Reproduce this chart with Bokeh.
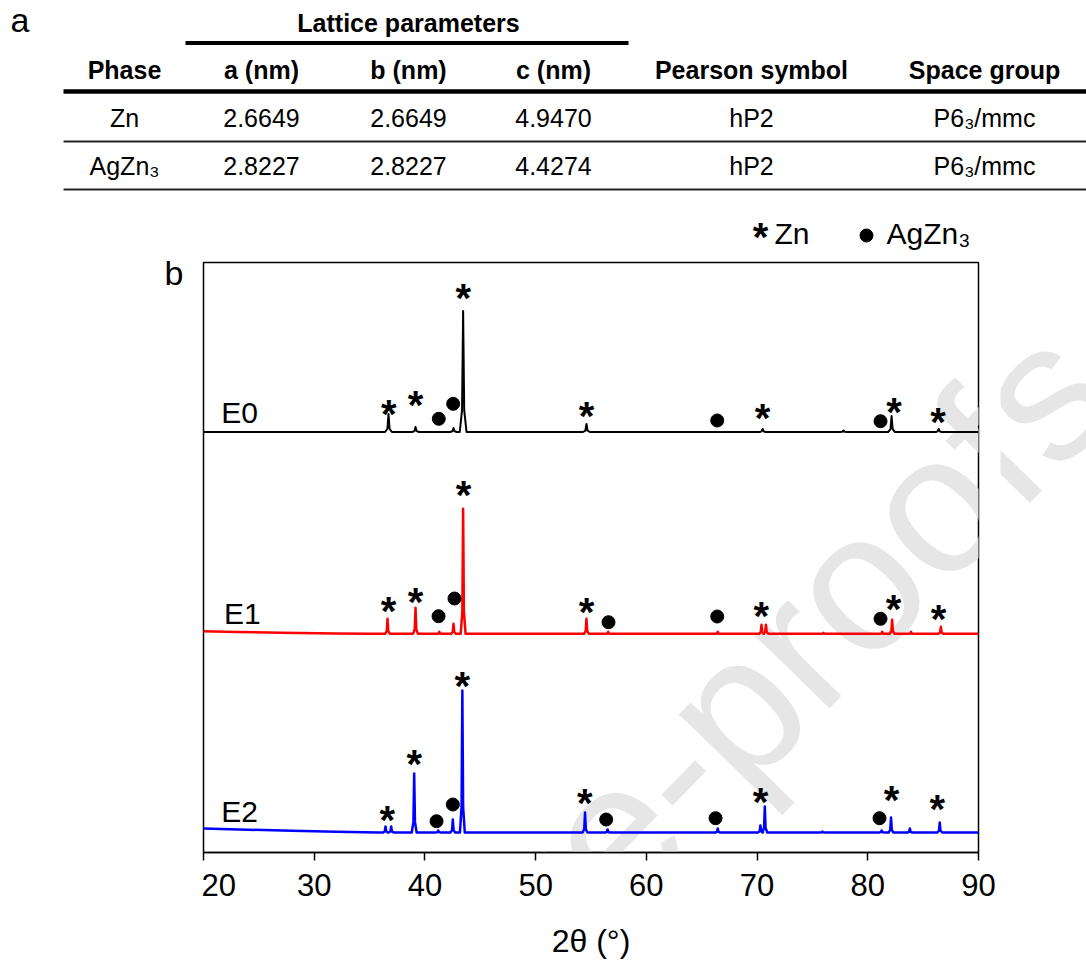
import numpy as np
from bokeh.plotting import figure
from bokeh.models import Range1d, FixedTicker
from bokeh.layouts import column, row
from bokeh.embed import file_html
from bokeh.resources import INLINE
from bokeh.core.properties import value

FONT = "Liberation Sans"

# ---------------- panel a: table data ----------------
group_header = "Lattice parameters"
table_columns = ["Phase", "a (nm)", "b (nm)", "c (nm)", "Pearson symbol", "Space group"]
phases = ["Zn", "AgZn₃"]
lat_a = ["2.6649", "2.8227"]
lat_b = ["2.6649", "2.8227"]
lat_c = ["4.9470", "4.4274"]
pearson = ["hP2", "hP2"]
space_group = ["P6₃/mmc", "P6₃/mmc"]

# ---------------- panel b: XRD data ----------------
x_ticks = [20, 30, 40, 50, 60, 70, 80, 90]
series_names = ["E0", "E1", "E2"]
legend_names = ["Zn", "AgZn₃"]

# background (2θ, intensity)
e0_bg_tt = [20.0, 35.0]
e0_bg_i = [0.0, 0.0]
e1_bg_tt = [20.0, 23.0, 27.0, 32.0, 35.0]
e1_bg_i = [2.6, 1.8, 1.0, 0.3, 0.0]
e2_bg_tt = [20.0, 24.0, 28.0, 32.0, 35.8]
e2_bg_i = [4.0, 2.8, 1.8, 0.8, 0.0]

# peaks: position (2θ) and height above baseline
e0_peak_tt = [36.71, 39.15, 42.58, 43.45, 54.59, 70.50, 77.80, 82.15, 86.40]
e0_peak_i = [18, 5, 4, 121, 8, 3, 1.5, 16, 3]
e1_peak_tt = [36.62, 39.15, 41.30, 42.58, 43.45, 54.59, 56.55, 66.45, 70.40, 70.80,
              76.00, 81.30, 82.20, 83.90, 86.60]
e1_peak_i = [15, 26, 2, 10, 125, 15, 2, 2, 9, 9, 1, 2, 14, 2, 7]
e2_peak_tt = [36.44, 36.95, 39.03, 41.20, 42.52, 43.38, 54.46, 56.50, 66.45, 70.30,
              70.70, 75.90, 81.25, 82.10, 83.80, 86.50]
e2_peak_i = [6, 6, 59, 2, 13, 142, 20, 3, 4, 7, 26, 1, 2, 15, 4, 10]

# phase markers (2θ, stacked intensity)
zn_star_tt = [36.74, 39.15, 43.46, 54.59, 70.49, 82.37, 86.35,
              36.71, 39.15, 43.48, 54.59, 70.37, 82.32, 86.39,
              36.59, 39.03, 43.37, 54.44, 70.31, 82.14, 86.27]
zn_star_y = [443.7, 453.0, 559.3, 442.0, 439.3, 446.0, 436.0,
             247.0, 256.0, 363.0, 245.5, 241.3, 248.7, 238.7,
             38.0, 93.7, 171.3, 55.0, 55.3, 58.0, 48.7]
agzn3_dot_tt = [41.25, 42.55, 66.40, 81.15,
                41.23, 42.67, 56.58, 66.40, 81.15,
                41.05, 42.52, 56.37, 66.25, 81.06]
agzn3_dot_y = [433.7, 448.7, 432.0, 431.3,
               236.3, 254.0, 230.3, 236.0, 233.7,
               31.3, 48.0, 33.0, 34.3, 34.3]

# ---------------- styling / layout constants ----------------
PEAK_DX = [-0.22, -0.07, 0.0, 0.07, 0.22]
PEAK_FRAC = [0.0, 0.18, 1.0, 0.18, 0.0]
series_peak_scale = [1.4, 1.0, 1.0]
series_offsets = [420.5, 218.7, 20.0]
series_colors = ["#000000", "#ff0000", "#0000ff"]
series_widths = [2.0, 2.5, 2.5]
WM_TEXT = "Pre-proofs"
WM_PAGE = (756, 686)        # watermark centre in page pixels
WM_ANGLE = 45.7
WM_SIZE = "196px"
WM_COLOR = "#e6e6e6"
TAB_H = 200                 # strip with panel a
LEG_H = 60                  # strip with the legend (page y 200..260)
LOW_H = 963 - TAB_H - LEG_H
STAR = dict(text_font=value(FONT), text_font_size="40px", text_font_style="bold",
            text_align="center", text_baseline="alphabetic", y_offset=5,
            text_color="#000000")


def build_trace(bg_tt, bg_i, pk_tt, pk_i, scale):
    xs, ys = list(bg_tt), list(bg_i)
    for c, h in zip(pk_tt, pk_i):
        for dx, f in zip(PEAK_DX, PEAK_FRAC):
            xs.append(c + dx * scale)
            ys.append(f * h)
    xs.append(90.0)
    ys.append(0.0)
    return xs, ys


def blank(width, height, x0, x1, y0, y1):
    f = figure(width=width, height=height, x_range=Range1d(x0, x1), y_range=Range1d(y1, y0),
               toolbar_location=None, output_backend="svg", min_border=0,
               x_axis_location=None, y_axis_location=None, outline_line_color=None,
               frame_align=False)
    f.grid.visible = False
    return f


# ================= panel a: table (page px 0..1086 x 0..200) =================
tab = blank(1086, TAB_H, 0, 1086, 0, TAB_H)

col_x = [124, 261, 408, 553, 751, 984]
common = dict(text_font=value(FONT), text_align="center", text_baseline="middle",
              text_color="#000000")

tab.text(x=[10], y=[19], text=["a"], text_font=value(FONT), text_font_size="34px",
         text_align="left", text_baseline="middle", text_color="#000000")
tab.text(x=[408], y=[22], text=[group_header], text_font_size="25px",
         text_font_style="bold", **common)
tab.text(x=col_x, y=[69.5] * 6, text=table_columns, text_font_size="25px",
         text_font_style="bold", **common)
rows = [phases, lat_a, lat_b, lat_c, pearson, space_group]
for ri, ry in enumerate([117.5, 165.5]):
    tab.text(x=col_x, y=[ry] * 6, text=[r[ri] for r in rows], text_font_size="25px", **common)

tab.segment(x0=[185], y0=[42.5], x1=[628], y1=[42.5], line_width=4, color="#000000")
tab.segment(x0=[63], y0=[91], x1=[1086], y1=[91], line_width=4.5, color="#000000")
tab.segment(x0=[63, 63], y0=[141, 189], x1=[1086, 1086], y1=[141, 189],
            line_width=2, color="#222222")

# ================= left strip: panel label b (page px 0..201 x 200..963) =================
left = blank(201, 963 - TAB_H, 0, 201, TAB_H, 963)
left.text(x=[164], y=[272], text=["b"], text_font=value(FONT), text_font_size="34px",
          text_align="left", text_baseline="middle", text_color="#000000")

# ================= legend strip (page px 201..1086 x 200..260) =================
leg = blank(885, LEG_H, 201, 1086, TAB_H, TAB_H + LEG_H)
leg.text(x=[760], y=[231], text=["*"], **STAR)
leg.scatter(x=[866], y=[235], size=13, marker="circle", color="#000000")
leg.text(x=[774, 886], y=[233, 233], text=legend_names, text_font=value(FONT),
         text_font_size="30px", text_align="left", text_baseline="middle",
         text_color="#000000")

# ================= XRD figure (frame: page px 203..978 x 262..852) =================
p = figure(width=799, height=LOW_H, x_range=Range1d(20, 90), y_range=Range1d(0, 590),
           toolbar_location=None, output_backend="svg", y_axis_location=None,
           min_border_left=2, min_border_right=22, min_border_top=262 - TAB_H - LEG_H,
           min_border_bottom=111, frame_align=False)
p.grid.visible = False
p.outline_line_color = "#000000"
p.outline_line_width = 1.5
p.outline_line_alpha = 1.0

# watermark (behind data)
PX_PER_DEG = 775 / 70.0
p.text(x=[20 + (WM_PAGE[0] - 203) / PX_PER_DEG], y=[852 - WM_PAGE[1]], text=[WM_TEXT],
       angle=WM_ANGLE, angle_units="deg", text_font=value(FONT), text_font_size=WM_SIZE,
       text_color=WM_COLOR, text_align="center", text_baseline="middle")

traces = [(e0_bg_tt, e0_bg_i, e0_peak_tt, e0_peak_i),
          (e1_bg_tt, e1_bg_i, e1_peak_tt, e1_peak_i),
          (e2_bg_tt, e2_bg_i, e2_peak_tt, e2_peak_i)]
for (bt, bi, pt, pi), sc, off, col, lw in zip(traces, series_peak_scale, series_offsets,
                                              series_colors, series_widths):
    xs, ys = build_trace(bt, bi, pt, pi, sc)
    p.line(xs, np.array(ys) + off, line_width=lw, color=col, line_join="round")

p.text(x=[21.6, 21.85, 21.6], y=[440, 239, 41], text=series_names,
       text_font=value(FONT), text_font_size="30px", text_align="left",
       text_baseline="middle", text_color="#000000")

p.text(x=zn_star_tt, y=zn_star_y, text=["*"] * len(zn_star_tt), **STAR)
p.scatter(x=agzn3_dot_tt, y=agzn3_dot_y, size=13, marker="circle", color="#000000")

ax = p.xaxis[0]
ax.ticker = FixedTicker(ticks=x_ticks)
ax.major_label_text_font = FONT
ax.major_label_text_font_size = "31px"
ax.major_label_text_color = "#000000"
ax.major_label_standoff = 13
ax.major_tick_out = 8
ax.major_tick_in = 0
ax.minor_tick_out = 0
ax.minor_tick_in = 0
ax.major_tick_line_width = 1.5
ax.axis_line_width = 1.5
ax.axis_line_color = "#000000"
ax.major_tick_line_color = "#000000"
ax.axis_label = "2θ (°)"
ax.axis_label_text_font = FONT
ax.axis_label_text_font_size = "32px"
ax.axis_label_text_font_style = "normal"
ax.axis_label_text_color = "#000000"
ax.axis_label_standoff = 24

# ================= right strip: rest of the watermark =================
right = blank(86, LOW_H, 1000, 1086, TAB_H + LEG_H, 963)
right.text(x=[WM_PAGE[0]], y=[WM_PAGE[1]], text=[WM_TEXT], angle=WM_ANGLE, angle_units="deg",
           text_font=value(FONT), text_font_size=WM_SIZE, text_color=WM_COLOR,
           text_align="center", text_baseline="middle")

layout = column(tab,
                row(left, column(leg, row(p, right, spacing=0), spacing=0), spacing=0),
                spacing=0)
open("out.html", "w").write(file_html(layout, INLINE))
